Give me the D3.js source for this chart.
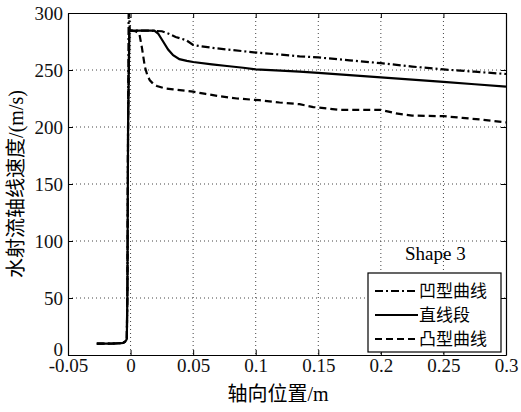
<!DOCTYPE html>
<html>
<head>
<meta charset="utf-8">
<title>Shape 3</title>
<style>
  body {margin: 0; background: #fff;}
  svg  {font-family: "Liberation Serif", "Times New Roman", "Noto Sans CJK SC", serif;}
  .grid line {stroke: #444; stroke-width: 1; stroke-dasharray: 1,3;}
  .curve {fill: none; stroke: #000; stroke-width: 2.2;}
</style>
</head>
<body>
<script src="https://cdn.jsdelivr.net/npm/d3@7/dist/d3.min.js"></script>
<svg id="chart" width="521" height="412"></svg>
<script>
// shared start: nozzle inlet then the steep rise near x = 0
var startX = [-0.027, -0.015, -0.006, -0.004, -0.003, -0.0025, -0.002];
var startV = [10, 10, 10.5, 12, 14, 60, 200];

// 凹型曲线 (dash-dot)
var concaveX = [-0.0015, -0.0006, 0.0, 0.015, 0.025, 0.03, 0.036, 0.0447, 0.05, 0.055, 0.065, 0.077, 0.09, 0.103, 0.12, 0.135, 0.15, 0.175, 0.2, 0.225, 0.25, 0.275, 0.3];
var concaveV = [306, 285, 284.5, 284.5, 284, 282, 279, 276, 272, 271, 269.5, 268, 266.5, 265, 263.5, 262, 261, 258.5, 256, 253, 250.5, 248.5, 246.5];

// 直线段 (solid)
var straightX = [-0.001, 0.0, 0.01, 0.019, 0.022, 0.026, 0.03, 0.034, 0.039, 0.045, 0.05, 0.065, 0.077, 0.09, 0.1, 0.12, 0.135, 0.15, 0.175, 0.2, 0.225, 0.25, 0.275, 0.3];
var straightV = [284, 284.5, 284.5, 284.5, 282, 275, 268, 263, 259.5, 258, 257, 255, 253.5, 252, 250.5, 249.5, 248.5, 247.5, 245.5, 243.5, 241.5, 239.5, 237.5, 235.5];

// 凸型曲线 (dashed)
var convexX = [-0.001, 0.0, 0.004, 0.007, 0.009, 0.0114, 0.0135, 0.0154, 0.018, 0.021, 0.027, 0.034, 0.05, 0.06, 0.071, 0.085, 0.103, 0.119, 0.135, 0.146, 0.167, 0.19, 0.2, 0.212, 0.225, 0.25, 0.265, 0.28, 0.3];
var convexV = [284, 284.5, 284, 282, 270, 253, 245, 241, 238, 236, 234, 233, 231, 229, 227, 225, 223.5, 221.5, 220, 217.5, 215, 215, 215, 212, 210, 209.5, 208, 206.5, 204];

var xTicks = [-0.05, 0, 0.05, 0.1, 0.15, 0.2, 0.25, 0.3];
var yTicks = [0, 50, 100, 150, 200, 250, 300];
var legendNames = ["凹型曲线", "直线段", "凸型曲线"];
var dashes = ["8,3,2,3", null, "7,4"];

var margin = {top: 13, right: 15, bottom: 57, left: 68};
var svg = d3.select("#chart");
var w = 521 - margin.left - margin.right;
var h = 412 - margin.top - margin.bottom;

var x = d3.scaleLinear().domain([-0.05, 0.3]).range([0, w]);
var y = d3.scaleLinear().domain([0, 300]).range([h, 0]);

var g = svg.append("g").attr("transform", "translate(" + margin.left + "," + margin.top + ")");

g.append("clipPath").attr("id", "clip")
  .append("rect").attr("width", w).attr("height", h);

// dotted grid
var grid = g.append("g").attr("class", "grid");
grid.selectAll(".gx").data(xTicks.slice(1, -1)).enter().append("line")
  .attr("x1", d => x(d)).attr("x2", d => x(d)).attr("y1", 0).attr("y2", h);
grid.selectAll(".gy").data(yTicks.slice(1, -1)).enter().append("line")
  .attr("y1", d => y(d)).attr("y2", d => y(d)).attr("x1", 0).attr("x2", w);

// axes, ticks pointing inward like matlab
var serif = '"Liberation Serif", "Times New Roman", serif';
var fmtX = d => d === 0 ? "0" : String(d);
var axB = g.append("g").attr("transform", "translate(0," + h + ")")
  .call(d3.axisBottom(x).tickValues(xTicks).tickSizeInner(-5).tickSizeOuter(0).tickPadding(4).tickFormat(fmtX));
var axT = g.append("g")
  .call(d3.axisTop(x).tickValues(xTicks).tickSizeInner(-5).tickSizeOuter(0).tickFormat(""));
var axL = g.append("g")
  .call(d3.axisLeft(y).tickValues(yTicks).tickSizeInner(-5).tickSizeOuter(0).tickPadding(5));
var axR = g.append("g").attr("transform", "translate(" + w + ",0)")
  .call(d3.axisRight(y).tickValues(yTicks).tickSizeInner(-5).tickSizeOuter(0).tickFormat(""));
[axB, axT, axL, axR].forEach(a => {
  a.attr("font-family", serif).attr("font-size", 19);
  a.select(".domain").attr("stroke", "#000").attr("stroke-width", 1.2);
  a.selectAll(".tick line").attr("stroke", "#000");
  a.selectAll("text").attr("fill", "#111").style("font-family", serif);
});
// the 0 on the y axis sits a bit higher so it clears -0.05
axL.selectAll(".tick text").filter(d => d === 0).attr("dy", "0.05em");

// curves
var line = d3.line().x(d => x(d[0])).y(d => y(d[1]));
var series = [
  startX.concat(concaveX).map((d, i) => [d, startV.concat(concaveV)[i]]),
  startX.concat(straightX).map((d, i) => [d, startV.concat(straightV)[i]]),
  startX.concat(convexX).map((d, i) => [d, startV.concat(convexV)[i]])
];
g.append("g").attr("clip-path", "url(#clip)")
  .selectAll("path").data(series).enter().append("path")
  .attr("class", "curve")
  .attr("d", line)
  .attr("stroke-dasharray", (d, i) => dashes[i]);

// label
g.append("text").attr("x", 337).attr("y", 247)
  .attr("font-size", 19).style("font-family", serif).text("Shape 3");

// legend
var lg = g.append("g").attr("transform", "translate(300,260)");
lg.append("rect").attr("width", 133).attr("height", 79)
  .attr("fill", "#fff").attr("stroke", "#000").attr("stroke-width", 1.2);
legendNames.forEach((name, i) => {
  var cy = 18 + i * 24;
  lg.append("line").attr("x1", 7).attr("x2", 50).attr("y1", cy).attr("y2", cy)
    .attr("stroke", "#000").attr("stroke-width", 2.2)
    .attr("stroke-dasharray", dashes[i]);
  lg.append("text").attr("x", 51).attr("y", cy + 6)
    .attr("font-size", 17).style("font-family", '"Noto Sans CJK SC", sans-serif')
    .text(name);
});

// axis titles
svg.append("text").attr("x", 278).attr("y", 401).attr("text-anchor", "middle")
  .attr("font-size", 20).text("轴向位置/m");
svg.append("text").attr("transform", "translate(23,184) rotate(-90)")
  .attr("text-anchor", "middle").attr("font-size", 20).text("水射流轴线速度/(m/s)");
</script>
</body>
</html>
